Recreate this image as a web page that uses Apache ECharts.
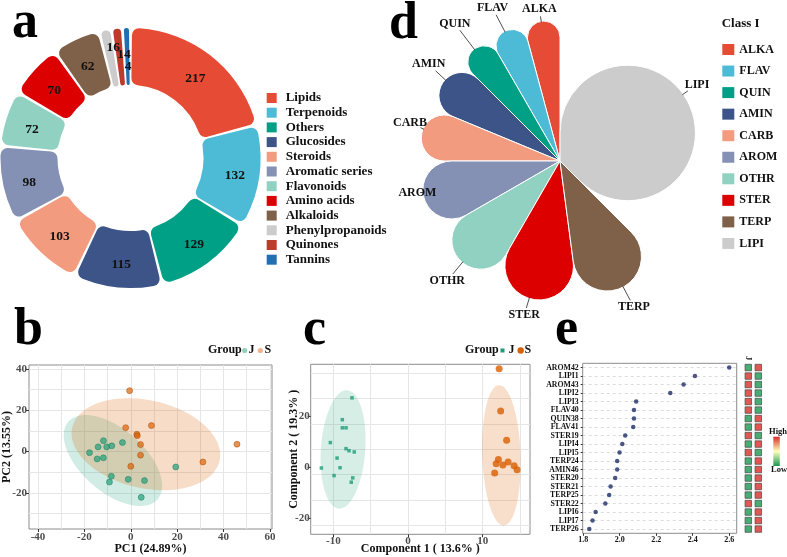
<!DOCTYPE html>
<html>
<head>
<meta charset="utf-8">
<title>Metabolite overview</title>
<script src="https://cdn.jsdelivr.net/npm/echarts@6/dist/echarts.min.js"></script>
<style>
  html, body { margin: 0; padding: 0; background: #fff; }
  #main { width: 787px; height: 557px; }
</style>
</head>
<body>
<div id="main"></div>
<script>
var FONT = '"Liberation Serif", "Times New Roman", serif';
var INK = '#111111';
var GREY = '#4d4d4d';

// a - number of metabolites per class
var classNames = ['Lipids', 'Terpenoids', 'Others', 'Glucosides', 'Steroids', 'Aromatic series',
  'Flavonoids', 'Amino acids', 'Alkaloids', 'Phenylpropanoids', 'Quinones', 'Tannins'];
var classCounts = [217, 132, 129, 115, 103, 98, 72, 70, 62, 16, 14, 4];
var classColors = ['#E64B35', '#4DBBD5', '#00A087', '#3C5488', '#F39B7F', '#8491B4',
  '#91D1C2', '#DC0000', '#7E6148', '#CCCCCC', '#BE3A2B', '#1F6FB2'];

// d - differential metabolites per class
var diffClasses = ['ALKA', 'FLAV', 'QUIN', 'AMIN', 'CARB', 'AROM', 'OTHR', 'STER', 'TERP', 'LIPI'];
var diffCounts = [2, 2, 2, 3, 3, 4, 4, 5, 5, 18];
var diffColors = ['#E64B35', '#4DBBD5', '#00A087', '#3C5488', '#F39B7F', '#8491B4',
  '#91D1C2', '#DC0000', '#7E6148', '#CCCCCC'];

// b - PCA scores
var pcaJ = [[-11.8, 5.3], [-14.1, 2.3], [-10.4, 2.3], [-8.2, 2.8], [-3.6, 4.4], [-17.8, -0.5],
  [-14.5, -3.5], [-11.8, -3.0], [19.4, -7.4], [-1.1, -13.4], [5.9, -14.0], [-8.4, -11.9],
  [-9.2, -14.7], [4.5, -22.1]];
var pcaS = [[-0.5, 29.5], [-2.2, 11.6], [8.9, 12.6], [2.6, 8.4], [2.8, 7.7], [4.2, 3.4],
  [4.2, -1.7], [0.0, -7.1], [31.1, -5.0], [45.8, 3.6]];
// ellipse: centre x, centre y, first half-axis (dx, dy), second half-axis (dx, dy)
var pcaEllipseJ = [-7.7, -4.3, 19.3, -18.7, -8.8, -11.6];
var pcaEllipseS = [6.5, 3.6, 31.8, -7.9, -4.0, -20.8];
var pcaXTicks = [-40, -20, 0, 20, 40, 60];
var pcaYTicks = [-20, 0, 20, 40];
var pcaXGrid = [-40, -30, -20, -10, 0, 10, 20, 30, 40, 50, 60];
var pcaYGrid = [-30, -20, -10, 0, 10, 20, 30, 40];

// c - PLS-DA scores
var plsJ = [[-7.5, 27.2], [-8.8, 18.6], [-8.8, 15.4], [-8.3, 15.4], [-10.4, 9.6], [-8.3, 7.2],
  [-7.9, 6.4], [-7.2, 5.9], [-9.5, 3.5], [-11.6, -0.4], [-9.1, -0.3], [-9.9, -3.4],
  [-7.4, -4.3], [-7.6, -6.0]];
var plsS = [[12.2, 38.6], [12.4, 22.0], [13.2, 10.5], [12.1, 2.9], [11.8, 1.3], [12.7, 0.8],
  [13.4, 2.0], [11.6, -2.4], [14.2, 0.5], [14.6, -1.1]];
var plsEllipseJ = [-8.7, 6.9, -0.55, -23.3, -2.96, 0.59];
var plsEllipseS = [12.5, 4.6, 0.32, -27.6, -2.57, -0.26];
var plsXTicks = [-10, 0, 10];
var plsYTicks = [-20, 0, 20];
var plsXGrid = [-10, -5, 0, 5, 10, 15];
var plsYGrid = [-23, -13, -3, 7, 17, 27, 37];

// e - VIP scores and relative level in J / S
var vipNames = ['AROM42', 'LIPI1', 'AROM43', 'LIPI2', 'LIPI3', 'FLAV40', 'QUIN38', 'FLAV41',
  'STER19', 'LIPI4', 'LIPI5', 'TERP24', 'AMIN46', 'STER20', 'STER21', 'TERP25', 'STER22',
  'LIPI6', 'LIPI7', 'TERP26'];
var vipScores = [2.600, 2.412, 2.350, 2.277, 2.090, 2.078, 2.078, 2.074, 2.030, 2.014, 1.999,
  1.986, 1.986, 1.975, 1.950, 1.942, 1.921, 1.868, 1.851, 1.833];
var levelJ = [-1, 1, 1, 1, 1, 1, -1, -1, 1, -1, 1, -1, -1, -1, -1, -1, 1, -1, -1, -1];
var levelS = [1, -1, -1, -1, -1, -1, 1, 1, -1, 1, -1, 1, 1, 1, 1, 1, -1, 1, 1, 1];
var groups = ['J', 'S'];
var vipTicks = [1.8, 2.0, 2.2, 2.4, 2.6];

var myChart = echarts.init(document.getElementById('main'));

function bold(size, color) {
  return { fontFamily: FONT, fontWeight: 'bold', fontSize: size, color: color || INK };
}

// labels of the three thin slices are staggered like in the figure
var smallLabelShift = { 'Phenylpropanoids': [3, -8], 'Quinones': [4.5, 0], 'Tannins': [1, 12.5] };
// petal names are nudged off the petal axis a little, as in the figure (px)
var petalLabelShift = {
  ALKA: [0, 5], FLAV: [-7, -7], QUIN: [-9, -12], AMIN: [0, -9], CARB: [5, -7],
  AROM: [10, -9], OTHR: [-1, 8], STER: [-5, -1], TERP: [4, 4.5], LIPI: [-9, -16]
};
var PETAL_R = 141;

var donutData = classNames.map(function (n, i) {
  var item = { name: n, value: classCounts[i], itemStyle: { color: classColors[i] } };
  if (smallLabelShift[n]) item.label = { offset: smallLabelShift[n] };
  return item;
});
var petalData = diffClasses.map(function (n, i) {
  return { name: n, value: diffCounts[i], itemStyle: { color: diffColors[i] } };
});
// middle of every petal, in the same units as the petal values
var diffTotal = 0;
var petalMid = diffCounts.map(function (c) { diffTotal += c; return diffTotal - c / 2; });

// main value axis with ticks/labels only
function valueAxis(grid, min, max, ticks, pos, name, nameGap, margin) {
  return {
    type: 'value', gridIndex: grid, min: min, max: max, position: pos,
    axisLine: { show: false, onZero: false },
    axisTick: { show: true, length: 3, customValues: ticks, lineStyle: { color: '#333' } },
    axisLabel: { customValues: ticks, margin: margin, fontFamily: FONT, fontWeight: 'bold', fontSize: 11, color: GREY },
    splitLine: { show: false },
    name: name, nameLocation: 'middle', nameGap: nameGap, nameMoveOverlap: false,
    nameRotate: pos === 'left' ? 90 : 0,
    nameTextStyle: bold(12)
  };
}
// second axis that only draws the background grid lines
function gridAxis(grid, min, max, lines, pos) {
  return {
    type: 'value', gridIndex: grid, min: min, max: max, position: pos,
    axisLine: { show: false, onZero: false },
    axisTick: { show: false, customValues: lines },
    axisLabel: { show: false, customValues: lines },
    splitLine: { show: true, lineStyle: { color: '#e6e6e6', width: 1 } }
  };
}

function ellipseSeries(params, xi, yi, fill) {
  return {
    type: 'custom', xAxisIndex: xi, yAxisIndex: yi, silent: true, z: 1,
    data: [params],
    renderItem: function (p, api) {
      var pts = [];
      for (var k = 0; k < 96; k++) {
        var t = k / 96 * Math.PI * 2;
        pts.push(api.coord([
          api.value(0) + api.value(2) * Math.cos(t) + api.value(4) * Math.sin(t),
          api.value(1) + api.value(3) * Math.cos(t) + api.value(5) * Math.sin(t)
        ]));
      }
      return { type: 'polygon', shape: { points: pts }, style: { fill: fill } };
    }
  };
}

function letter(ch, x, y) {
  return {
    type: 'text', x: x, y: y, silent: true,
    style: { text: ch, fill: '#000', font: 'bold 52px ' + FONT, align: 'left', verticalAlign: 'middle' }
  };
}
function label(txt, x, y, size, align) {
  return {
    type: 'text', x: x, y: y, silent: true,
    style: { text: txt, fill: INK, font: 'bold ' + size + 'px ' + FONT, align: align || 'left', verticalAlign: 'middle' }
  };
}

var heatData = [];
vipNames.forEach(function (n, i) {
  heatData.push([0, i, levelJ[i]]);
  heatData.push([1, i, levelS[i]]);
});

var frame = { show: true, borderColor: '#8c8c8c', borderWidth: 1, backgroundColor: 'transparent' };
var heatColors = ['#1A9850', '#FFFFBF', '#D73027'];

myChart.setOption({
  animation: false,
  grid: [
    Object.assign({ left: 28, top: 365, width: 244, height: 164 }, frame),      // b
    Object.assign({ left: 310.7, top: 364.3, width: 219.3, height: 170 }, frame), // c
    Object.assign({ left: 582.7, top: 363.3, width: 154, height: 170 }, frame),  // e
    { left: 743.3, top: 363.3, width: 20, height: 170, show: false }             // e heat cells
  ],
  polar: { center: [560, 161], radius: 200 },
  angleAxis: { type: 'value', min: 0, max: diffTotal, startAngle: 90, clockwise: false, show: false },
  radiusAxis: { type: 'value', min: 0, max: 200, show: false },
  xAxis: [
    valueAxis(0, -43.9, 60.9, pcaXTicks, 'bottom', 'PC1 (24.89%)', 14, 3),
    gridAxis(0, -43.9, 60.9, pcaXGrid, 'top'),
    valueAxis(1, -13.03, 16.33, plsXTicks, 'bottom', 'Component 1 ( 13.6% )', 9, 1),
    gridAxis(1, -13.03, 16.33, plsXGrid, 'top'),
    {
      type: 'value', gridIndex: 2, min: 1.797, max: 2.641,
      axisLine: { show: false, onZero: false },
      axisTick: { show: true, length: 2.5, customValues: vipTicks, lineStyle: { color: '#333' } },
      axisLabel: {
        customValues: vipTicks, margin: 3, fontFamily: FONT, fontWeight: 'bold', fontSize: 8, color: INK,
        formatter: function (v) { return v.toFixed(1); }
      },
      splitLine: { show: false }
    },
    {
      type: 'category', gridIndex: 3, data: groups, position: 'top',
      axisLine: { show: false }, axisTick: { show: false },
      axisLabel: { rotate: 90, margin: 3, fontFamily: FONT, fontWeight: 'bold', fontSize: 8, color: INK }
    }
  ],
  yAxis: [
    valueAxis(0, -37.4, 41.9, pcaYTicks, 'left', 'PC2 (13.55%)', 16, 2),
    gridAxis(0, -37.4, 41.9, pcaYGrid, 'right'),
    valueAxis(1, -26.5, 40.4, plsYTicks, 'left', 'Component 2 ( 19.3% )', 11, 1),
    gridAxis(1, -26.5, 40.4, plsYGrid, 'right'),
    {
      type: 'value', gridIndex: 2, min: -0.5, max: 19.5, inverse: true,
      axisLine: { show: false, onZero: false },
      axisTick: { show: true, length: 2, customValues: vipNames.map(function (n, i) { return i; }), lineStyle: { color: '#333' } },
      axisLabel: {
        customValues: vipNames.map(function (n, i) { return i; }), margin: 4,
        fontFamily: FONT, fontWeight: 'bold', fontSize: 7.8, color: INK,
        formatter: function (v) { return vipNames[Math.round(v)]; }
      },
      splitLine: { show: true, lineStyle: { color: '#d4d4d4', type: [3, 3], width: 0.8 } }
    },
    { type: 'category', gridIndex: 3, data: vipNames, inverse: true, show: false }
  ],
  legend: [
    {
      orient: 'vertical', left: 266.7, top: 91.5, padding: 0, icon: 'rect', itemWidth: 10, itemHeight: 10, itemGap: 1.7,
      selectedMode: false, data: classNames, itemStyle: { borderWidth: 0 },
      textStyle: { fontFamily: FONT, fontWeight: 'bold', fontSize: 13, lineHeight: 13, color: INK, padding: [0, 0, 0, 4] }
    },
    {
      orient: 'vertical', left: 722.3, top: 43.5, padding: 0, icon: 'rect', itemWidth: 12, itemHeight: 11, itemGap: 9.55,
      selectedMode: false, data: diffClasses, itemStyle: { borderWidth: 0 },
      textStyle: { fontFamily: FONT, fontWeight: 'bold', fontSize: 12, lineHeight: 12, color: INK }
    }
  ],
  visualMap: {
    type: 'continuous', show: false, seriesIndex: 11, dimension: 2, min: -1, max: 1,
    inRange: { color: heatColors }
  },
  graphic: [
    letter('a', 12, 23.5), letter('d', 389, 25), letter('b', 14, 331),
    letter('c', 303, 331), letter('e', 555, 331),
    label('Class I', 721.7, 23.3, 13),
    label('Group', 208, 350, 12),
    { type: 'circle', silent: true, shape: { cx: 244.7, cy: 350.5, r: 2.6 }, style: { fill: '#8ED0BA' } },
    label('J', 248.5, 350, 12),
    { type: 'circle', silent: true, shape: { cx: 260.3, cy: 350.5, r: 2.6 }, style: { fill: '#F2B48A' } },
    label('S', 264.5, 350, 12),
    label('Group', 465, 350, 12),
    { type: 'rect', silent: true, shape: { x: 500.5, y: 348.5, width: 4, height: 4 }, style: { fill: '#1B9E77' } },
    label('J', 508.5, 350, 12),
    { type: 'circle', silent: true, shape: { cx: 520.7, cy: 350.5, r: 3.2 }, style: { fill: '#D95F02' } },
    label('S', 524.5, 350, 12),
    // colour key of the heat cells
    {
      type: 'rect', silent: true, shape: { x: 773.3, y: 436.7, width: 6.5, height: 29.3 },
      style: {
        fill: new echarts.graphic.LinearGradient(0, 0, 0, 1, [
          { offset: 0, color: heatColors[2] }, { offset: 0.5, color: heatColors[1] }, { offset: 1, color: heatColors[0] }
        ])
      }
    },
    label('High', 778, 431.5, 8.5, 'center'),
    label('Low', 779, 470, 8.5, 'center')
  ],
  series: [
    {
      type: 'pie', center: [130.5, 158], radius: [73, 130], startAngle: 90, clockwise: true,
      padAngle: 1.3, minAngle: 2.3, avoidLabelOverlap: false,
      labelLayout: { hideOverlap: false },
      itemStyle: { borderRadius: 7 },
      label: {
        show: true, position: 'inside', formatter: '{c}', offset: [1, 3],
        fontFamily: FONT, fontWeight: 'bold', fontSize: 13.5, color: INK
      },
      labelLine: { show: false },
      emphasis: { disabled: true },
      data: donutData
    },
    {
      type: 'pie', center: [560, 161], radius: [0, PETAL_R], startAngle: 90, clockwise: false,
      itemStyle: { borderRadius: 200, borderColor: '#fff', borderWidth: 1 },
      label: { show: false }, labelLine: { show: false },
      emphasis: { disabled: true },
      data: petalData
    },
    {
      // petal names, with a short leader line leaving the round end of the petal
      type: 'custom', coordinateSystem: 'polar', silent: true, z: 5,
      data: diffClasses.map(function (n, i) { return { name: n, value: [158, petalMid[i]] }; }),
      renderItem: function (p, api) {
        var name = diffClasses[p.dataIndex];
        var a = api.value(1);
        // radius of the rounded petal end (inscribed circle of the sector)
        var s = Math.sin(diffCounts[p.dataIndex] / diffTotal * Math.PI);
        var rc = Math.min(PETAL_R / 2, PETAL_R * s / (1 + s));
        var cap = api.coord([PETAL_R - rc, a]);
        var base = api.coord([api.value(0), a]);
        var sh = petalLabelShift[name] || [0, 0];
        var c = [base[0] + sh[0], base[1] + sh[1]];
        var dx = c[0] - cap[0], dy = c[1] - cap[1];
        var len = Math.sqrt(dx * dx + dy * dy);
        var ux = dx / len, uy = dy / len;
        var edge = Math.min(Math.abs(ux) > 1e-6 ? 14 / Math.abs(ux) : 1e9,
          Math.abs(uy) > 1e-6 ? 5.5 / Math.abs(uy) : 1e9) + 1.5;
        var start = [cap[0] + ux * (rc - 1), cap[1] + uy * (rc - 1)];
        var end = [c[0] - ux * edge, c[1] - uy * edge];
        if (len - edge - rc < 3) end = [start[0] + ux * 4, start[1] + uy * 4];
        return {
          type: 'group',
          children: [
            { type: 'line', shape: { x1: start[0], y1: start[1], x2: end[0], y2: end[1] }, style: { stroke: '#222', lineWidth: 0.8 } },
            {
              type: 'text', x: c[0], y: c[1],
              style: { text: name, align: 'center', verticalAlign: 'middle', font: 'bold 12px ' + FONT, fill: INK }
            }
          ]
        };
      }
    },
    ellipseSeries(pcaEllipseJ, 0, 0, 'rgba(27,158,119,0.2)'),
    ellipseSeries(pcaEllipseS, 0, 0, 'rgba(217,95,2,0.22)'),
    {
      type: 'scatter', name: 'J', xAxisIndex: 0, yAxisIndex: 0, data: pcaJ, symbolSize: 6, z: 3,
      itemStyle: { color: 'rgba(27,158,119,0.85)', borderColor: '#157a5c', borderWidth: 0.6 }
    },
    {
      type: 'scatter', name: 'S', xAxisIndex: 0, yAxisIndex: 0, data: pcaS, symbolSize: 6, z: 3,
      itemStyle: { color: 'rgba(217,95,2,0.85)', borderColor: '#a84a02', borderWidth: 0.6 }
    },
    ellipseSeries(plsEllipseJ, 2, 2, 'rgba(27,158,119,0.18)'),
    ellipseSeries(plsEllipseS, 2, 2, 'rgba(217,95,2,0.2)'),
    {
      type: 'scatter', name: 'J', xAxisIndex: 2, yAxisIndex: 2, data: plsJ, symbol: 'rect', symbolSize: 3.5, z: 3,
      itemStyle: { color: '#1B9E77' }
    },
    {
      type: 'scatter', name: 'S', xAxisIndex: 2, yAxisIndex: 2, data: plsS, symbolSize: 7, z: 3,
      itemStyle: { color: '#D95F02' }
    },
    {
      type: 'scatter', xAxisIndex: 5, yAxisIndex: 5, symbol: 'rect', symbolSize: 6.5,
      data: heatData,
      itemStyle: { borderColor: '#3a3a3a', borderWidth: 0.8 }
    },
    {
      type: 'scatter', xAxisIndex: 4, yAxisIndex: 4, symbolSize: 4.5,
      data: vipScores.map(function (v, i) { return [v, i]; }),
      itemStyle: { color: '#1D2B64' }
    }
  ]
});
</script>
</body>
</html>
